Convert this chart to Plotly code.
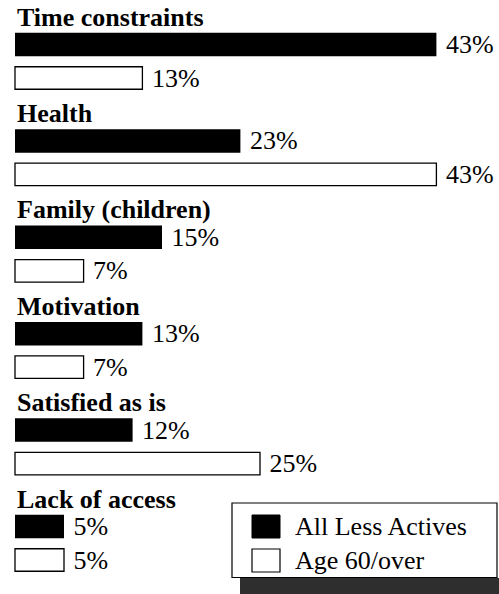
import plotly.graph_objects as go

# Reasons for not being more active, share of respondents (%)
categories = [
    "Time constraints",
    "Health",
    "Family (children)",
    "Motivation",
    "Satisfied as is",
    "Lack of access",
]
all_less_actives = [43, 23, 15, 13, 12, 5]
age_60_over = [13, 43, 7, 7, 25, 5]

series_names = ["All Less Actives", "Age 60/over"]

W, H = 499, 594
FONT = "Liberation Serif"
FS = 26

# vertical layout in pixel units (y axis is mapped 1:1 to pixels, top-down)
first_center = 44.5
group_pitch = 96.4
pair_gap = 33.5
bar_h = 23.5
heading_offset = 27.5

# horizontal scale: pixel offset of the zero line and pixels per percent
x0_px = 15
px_per_pct = 9.8

n = len(categories)
y_black = [first_center + i * group_pitch for i in range(n)]
y_white = [y + pair_gap for y in y_black]

fig = go.Figure()

fig.add_trace(go.Bar(
    name=series_names[0],
    orientation="h",
    x=all_less_actives,
    y=y_black,
    width=bar_h,
    marker=dict(color="black", line=dict(color="black", width=0)),
    text=all_less_actives,
    texttemplate=" %{x}%",
    textposition="outside",
    constraintext="none",
    cliponaxis=False,
    textfont=dict(family=FONT, size=FS, color="black"),
    showlegend=False,
))

fig.add_trace(go.Bar(
    name=series_names[1],
    orientation="h",
    x=age_60_over,
    y=y_white,
    width=bar_h - 1,
    marker=dict(color="white", line=dict(color="black", width=1.3)),
    text=age_60_over,
    texttemplate=" %{x}%",
    textposition="outside",
    constraintext="none",
    cliponaxis=False,
    textfont=dict(family=FONT, size=FS, color="black"),
    showlegend=False,
))

# category headings above each pair of bars
for cat, yc in zip(categories, y_black):
    fig.add_annotation(
        x=0, y=yc - heading_offset, xref="x", yref="y",
        text=f"<b>{cat}</b>",
        xanchor="left", yanchor="middle",
        showarrow=False,
        font=dict(family=FONT, size=FS, color="black"),
    )

# boxed key with a drop shadow, bottom right
def px(x):
    return x / W

def py(y):
    return 1 - y / H

shapes = [
    dict(type="rect", xref="paper", yref="paper",
         x0=px(240), x1=px(499), y0=py(578), y1=py(594),
         fillcolor="#2e2e2e", line=dict(width=0), layer="above"),
    dict(type="rect", xref="paper", yref="paper",
         x0=px(232), x1=px(497), y0=py(503), y1=py(577.5),
         fillcolor="white", line=dict(color="black", width=1.2), layer="above"),
    dict(type="rect", xref="paper", yref="paper",
         x0=px(252), x1=px(280), y0=py(515), y1=py(538),
         fillcolor="black", line=dict(color="black", width=1), layer="above"),
    dict(type="rect", xref="paper", yref="paper",
         x0=px(252), x1=px(280), y0=py(549), y1=py(572),
         fillcolor="white", line=dict(color="black", width=1.2), layer="above"),
]
fig.update_layout(shapes=shapes)

for name, yc in zip(series_names, [526.5, 560.5]):
    fig.add_annotation(
        x=px(293), y=py(yc), xref="paper", yref="paper",
        text=name, xanchor="left", yanchor="middle",
        showarrow=False,
        font=dict(family=FONT, size=FS, color="black"),
    )

fig.update_layout(
    width=W, height=H,
    margin=dict(l=0, r=0, t=0, b=0),
    paper_bgcolor="white",
    plot_bgcolor="white",
    barmode="overlay",
    xaxis=dict(range=[-x0_px / px_per_pct, (W - x0_px) / px_per_pct],
               visible=False, showgrid=False, zeroline=False),
    yaxis=dict(range=[H, 0], visible=False, showgrid=False, zeroline=False),
)

fig.write_html("out.html")
